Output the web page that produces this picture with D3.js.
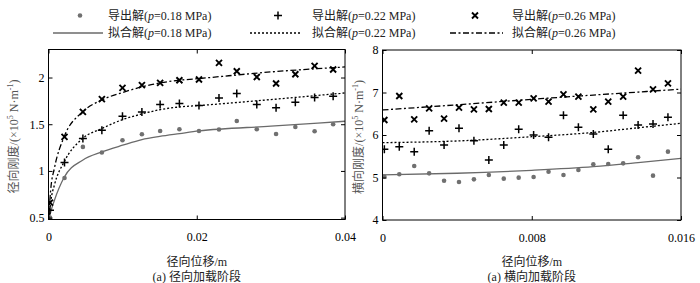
<!DOCTYPE html>
<html>
<head>
<meta charset="utf-8">
<script src="https://cdn.jsdelivr.net/npm/d3@7"></script>
<style>
  body { margin: 0; background: #fff; }
  svg { display: block; font-family: "Liberation Serif", "Noto Sans CJK SC", serif; }
  .axis path, .axis line { stroke: #000; }
  .axis text { font-size: 12px; fill: #000; font-family: "Liberation Serif", serif; }
</style>
</head>
<body>
<div id="app"></div>
<script>
// ---- data ----
const pressures = ['0.18', '0.22', '0.26'];

// radial loading stage (left)
const xLeft = [0.0002, 0.00216, 0.00464, 0.0072, 0.00998, 0.0126, 0.01506, 0.01766, 0.0203, 0.0230, 0.0254, 0.0281, 0.0307, 0.0333, 0.0359, 0.0384];
const dotLeft = [0.50, 0.925, 1.257, 1.197, 1.329, 1.393, 1.428, 1.446, 1.428, 1.443, 1.535, 1.446, 1.395, 1.471, 1.425, 1.50];
const plusLeft = [0.58, 1.09, 1.347, 1.436, 1.586, 1.632, 1.711, 1.722, 1.70, 1.782, 1.829, 1.711, 1.677, 1.736, 1.786, 1.80];
const crossLeft = [0.66, 1.364, 1.632, 1.768, 1.889, 1.918, 1.942, 1.971, 1.979, 2.156, 2.067, 2.006, 1.936, 2.035, 2.124, 2.086];

const fitXLeft = [0, 0.0001, 0.0003, 0.0008, 0.0021, 0.0046, 0.0072, 0.0100, 0.0126, 0.0150, 0.0177, 0.0203, 0.0300, 0.0400];
const fitDotLeft = [0.40, 0.49, 0.56, 0.686, 0.93, 1.115, 1.203, 1.275, 1.336, 1.37, 1.40, 1.428, 1.479, 1.532];
const fitPlusLeft = [0.40, 0.52, 0.67, 0.85, 1.096, 1.347, 1.454, 1.55, 1.61, 1.655, 1.685, 1.70, 1.764, 1.835];
const fitCrossLeft = [0.40, 0.58, 0.80, 1.03, 1.364, 1.632, 1.76, 1.84, 1.90, 1.942, 1.971, 1.989, 2.06, 2.113];

// lateral loading stage (right)
const xRight = [0.0001, 0.0009, 0.0017, 0.0025, 0.0033, 0.0041, 0.0049, 0.0057, 0.0065, 0.0073, 0.0081, 0.0089, 0.0097, 0.0105, 0.0113, 0.0121, 0.0129, 0.0137, 0.0145, 0.0153];
const dotRight = [5.02, 5.075, 5.27, 5.098, 4.925, 4.894, 4.957, 5.059, 4.973, 4.996, 5.012, 5.137, 5.059, 5.176, 5.31, 5.318, 5.333, 5.475, 5.043, 5.608];
const plusRight = [5.663, 5.725, 5.608, 6.102, 5.765, 6.157, 5.867, 5.412, 5.765, 6.133, 6.0, 5.945, 6.463, 6.18, 6.024, 5.663, 6.463, 6.235, 6.259, 6.416];
const crossRight = [6.353, 6.918, 6.369, 6.627, 6.384, 6.643, 6.604, 6.612, 6.761, 6.761, 6.863, 6.784, 6.957, 6.902, 6.604, 6.784, 6.902, 7.514, 7.075, 7.216];

const fitXRight = [0, 0.004, 0.008, 0.0113, 0.0137, 0.016];
const fitDotRight = [5.06, 5.10, 5.17, 5.255, 5.35, 5.45];
const fitPlusRight = [5.82, 5.86, 5.96, 6.06, 6.17, 6.275];
const fitCrossRight = [6.59, 6.71, 6.84, 6.94, 7.01, 7.08];

const xTicksLeft = [0, 0.02, 0.04];
const yTicksLeft = [0.5, 1, 1.5, 2];
const xTicksRight = [0, 0.008, 0.016];
const yTicksRight = [4, 5, 6, 7, 8];

const W = 700, H = 283;

const svg = d3.select('#app').append('svg')
  .attr('width', W).attr('height', H)
  .attr('viewBox', [0, 0, W, H]);

svg.append('rect').attr('width', W).attr('height', H).attr('fill', '#fff');

const styles = [
  { marker: 'dot', dash: null, lineColor: '#6a6a6a' },
  { marker: 'plus', dash: '2,2', lineColor: '#000' },
  { marker: 'cross', dash: '6,2.5,2,2.5', lineColor: '#000' }
];

function drawMarker(g, type, x, y) {
  if (type === 'dot') {
    g.append('circle').attr('cx', x).attr('cy', y).attr('r', 2.3).attr('fill', '#707070');
  } else if (type === 'plus') {
    g.append('path').attr('d', `M${x - 4},${y}H${x + 4}M${x},${y - 4}V${y + 4}`)
      .attr('stroke', '#000').attr('stroke-width', 1.5).attr('fill', 'none');
  } else {
    g.append('path').attr('d', `M${x - 3},${y - 3}L${x + 3},${y + 3}M${x - 3},${y + 3}L${x + 3},${y - 3}`)
      .attr('stroke', '#000').attr('stroke-width', 1.9).attr('fill', 'none');
  }
}

function panel(conf) {
  const x = d3.scaleLinear().domain(conf.xDomain).range([conf.left, conf.right]);
  const y = d3.scaleLinear().domain(conf.yDomain).range([conf.bottom, conf.top]);
  const g = svg.append('g');

  const clipId = 'clip-' + conf.id;
  svg.append('clipPath').attr('id', clipId)
    .append('rect')
    .attr('x', conf.left).attr('y', conf.top)
    .attr('width', conf.right - conf.left).attr('height', conf.bottom - conf.top);

  const plot = g.append('g').attr('clip-path', `url(#${clipId})`);

  // fitted curves
  conf.fits.forEach((fy, i) => {
    const pts = conf.fitX.map((d, j) => [d, fy[j]]);
    plot.append('path')
      .datum(pts)
      .attr('fill', 'none')
      .attr('stroke', styles[i].lineColor)
      .attr('stroke-width', 1.3)
      .attr('stroke-dasharray', styles[i].dash)
      .attr('d', d3.line().x(d => x(d[0])).y(d => y(d[1])).curve(d3.curveMonotoneX));
  });

  // derived points
  conf.series.forEach((sy, i) => {
    sy.forEach((v, j) => drawMarker(plot, styles[i].marker, x(conf.xs[j]), y(v)));
  });

  // axes with inward ticks, mirrored on top and right
  g.append('g').attr('class', 'axis')
    .attr('transform', `translate(0,${conf.bottom})`)
    .call(d3.axisBottom(x).tickValues(conf.xTicks).tickSize(-4).tickPadding(13).tickFormat(d => String(d)))
    .call(a => a.select('.domain').remove());
  g.append('g').attr('class', 'axis')
    .attr('transform', `translate(0,${conf.top})`)
    .call(d3.axisTop(x).tickValues(conf.xTicks).tickSize(-4).tickFormat(''))
    .call(a => a.select('.domain').remove());
  g.append('g').attr('class', 'axis')
    .attr('transform', `translate(${conf.left},0)`)
    .call(d3.axisLeft(y).tickValues(conf.yTicks).tickSize(-4).tickPadding(4).tickFormat(d => String(d)))
    .call(a => a.select('.domain').remove());
  g.append('g').attr('class', 'axis')
    .attr('transform', `translate(${conf.right},0)`)
    .call(d3.axisRight(y).tickValues(conf.yTicks).tickSize(-4).tickFormat(''))
    .call(a => a.select('.domain').remove());

  g.append('rect')
    .attr('x', conf.left).attr('y', conf.top)
    .attr('width', conf.right - conf.left).attr('height', conf.bottom - conf.top)
    .attr('fill', 'none').attr('stroke', '#000').attr('stroke-width', 1);

  const cx = (conf.left + conf.right) / 2;

  g.append('text')
    .attr('x', cx).attr('y', 266)
    .attr('text-anchor', 'middle').attr('font-size', 12).attr('fill', '#222')
    .text('径向位移/m');

  g.append('text')
    .attr('x', cx).attr('y', 281)
    .attr('text-anchor', 'middle').attr('font-size', 12).attr('fill', '#222')
    .text(conf.caption);

  // rotated y label
  const yl = g.append('text')
    .attr('transform', `translate(${conf.yLabelX},${(conf.top + conf.bottom) / 2 + 2}) rotate(-90)`)
    .attr('text-anchor', 'middle').attr('font-size', 12).attr('fill', '#555');
  yl.append('tspan').text(conf.yLabel + '/(×10');
  yl.append('tspan').attr('font-size', 8).attr('dy', -5).text('5');
  yl.append('tspan').attr('dy', 5).text(' N·m');
  yl.append('tspan').attr('font-size', 8).attr('dy', -5).text('-1');
  yl.append('tspan').attr('dy', 5).text(')');
}

panel({
  id: 'left', left: 48.5, right: 345, top: 49.5, bottom: 219.5,
  xDomain: [0, 0.04], yDomain: [0.48, 2.3],
  xTicks: xTicksLeft, yTicks: yTicksLeft,
  xs: xLeft, series: [dotLeft, plusLeft, crossLeft],
  fitX: fitXLeft, fits: [fitDotLeft, fitPlusLeft, fitCrossLeft],
  yLabel: '径向刚度', yLabelX: 18, caption: '(a) 径向加载阶段'
});

panel({
  id: 'right', left: 382.5, right: 681, top: 50, bottom: 220,
  xDomain: [0, 0.016], yDomain: [4, 8],
  xTicks: xTicksRight, yTicks: yTicksRight,
  xs: xRight, series: [dotRight, plusRight, crossRight],
  fitX: fitXRight, fits: [fitDotRight, fitPlusRight, fitCrossRight],
  yLabel: '横向刚度', yLabelX: 363, caption: '(a) 横向加载阶段'
});

// legend
const legend = svg.append('g').attr('font-size', 12).attr('fill', '#222');
const legendCols = [
  { mx: 80, lx0: 53, lx1: 103, tx: 108 },
  { mx: 278, lx0: 250, lx1: 302, tx: 312 },
  { mx: 475, lx0: 450, lx1: 503, tx: 512 }
];

function legendText(x, y, kind, p) {
  const t = legend.append('text').attr('x', x).attr('y', y);
  t.append('tspan').text(kind + '(');
  t.append('tspan').attr('font-style', 'italic').text('p');
  t.append('tspan').text('=' + p + ' MPa)');
}

legendCols.forEach((c, i) => {
  drawMarker(legend, styles[i].marker, c.mx, 15.5);
  legendText(c.tx, 20, '导出解', pressures[i]);
  legend.append('line')
    .attr('x1', c.lx0).attr('x2', c.lx1).attr('y1', 33).attr('y2', 33)
    .attr('stroke', styles[i].lineColor).attr('stroke-width', 1.3)
    .attr('stroke-dasharray', styles[i].dash);
  legendText(c.tx, 37, '拟合解', pressures[i]);
});
</script>
</body>
</html>
